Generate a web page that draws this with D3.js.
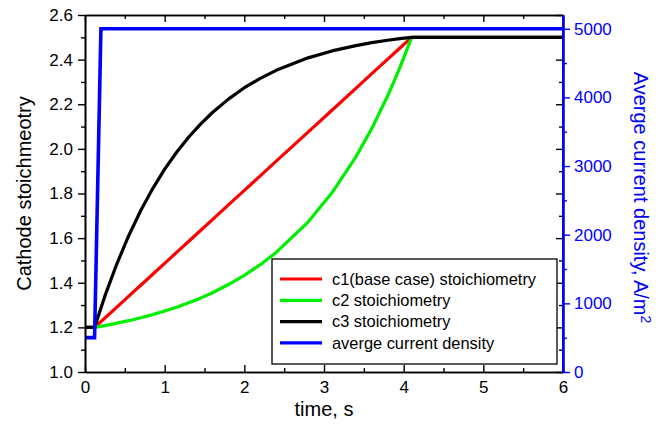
<!DOCTYPE html>
<html>
<head>
<meta charset="utf-8">
<script src="https://cdn.jsdelivr.net/npm/d3@7"></script>
<style>
  body { margin: 0; background: #fff; }
  text { font-family: "Liberation Sans", Arial, sans-serif; }
</style>
</head>
<body>
<div id="chart"></div>
<script>
// Data
const timeC = [0, 0.12, 0.25, 0.4, 0.55, 0.7, 0.85, 1.0, 1.15, 1.3, 1.45, 1.6, 1.8, 2.0, 2.2, 2.4, 2.8, 3.1, 3.4, 3.6, 3.8, 3.95, 4.1, 6.0];
const c1 = [1.2, 1.2, 1.242, 1.291, 1.340, 1.389, 1.438, 1.487, 1.536, 1.585, 1.634, 1.683, 1.749, 1.814, 1.879, 1.945, 2.075, 2.173, 2.271, 2.337, 2.402, 2.451, 2.5, 2.5];
const c2 = [1.2, 1.2, 1.208, 1.219, 1.230, 1.243, 1.257, 1.273, 1.290, 1.310, 1.331, 1.355, 1.392, 1.433, 1.481, 1.536, 1.672, 1.803, 1.964, 2.091, 2.238, 2.362, 2.5, 2.5];
const c3 = [1.2, 1.2, 1.341, 1.485, 1.612, 1.724, 1.822, 1.909, 1.985, 2.052, 2.111, 2.163, 2.223, 2.274, 2.316, 2.352, 2.408, 2.439, 2.463, 2.476, 2.487, 2.494, 2.5, 2.5];
const timeJ = [0, 0.12, 0.2, 6.0];
const currentDensity = [500, 500, 5000, 5000];

const xTicks = [0, 1, 2, 3, 4, 5, 6];
const yLeftTicks = [1.0, 1.2, 1.4, 1.6, 1.8, 2.0, 2.2, 2.4, 2.6];
const yRightTicks = [0, 1000, 2000, 3000, 4000, 5000];

const series = [
  { name: "c1(base case) stoichiometry", color: "#ff0000", values: c1 },
  { name: "c2 stoichiometry", color: "#00ee00", values: c2 },
  { name: "c3 stoichiometry", color: "#000000", values: c3 }
];

const W = 670, H = 426;
const mLeft = 85, mRight = 563, mTop = 15, mBottom = 372;

const svg = d3.select("#chart").append("svg")
  .attr("width", W).attr("height", H);

const x = d3.scaleLinear().domain([0, 6]).range([mLeft, mRight]);
const yL = d3.scaleLinear().domain([1.0, 2.6]).range([mBottom, mTop]);
const yR = d3.scaleLinear().domain([0, 5200]).range([mBottom, mTop]);

const minorX = d3.range(0.5, 6, 1);
const minorYL = d3.range(1.1, 2.6, 0.2);
const minorYR = d3.range(500, 5200, 1000);

function styleAxis(g, color, fs) {
  g.selectAll("path").attr("stroke", color).attr("stroke-width", 1.6);
  g.selectAll("line").attr("stroke", color).attr("stroke-width", 1.4);
  g.selectAll("text").attr("fill", color).style("font-size", fs + "px")
    .style("font-family", "'Liberation Sans', Arial, sans-serif");
}

// curves
const lineC = d3.line().x((d, i) => x(timeC[i])).y(d => yL(d));
series.forEach(s => {
  svg.append("path")
    .attr("d", lineC(s.values))
    .attr("fill", "none")
    .attr("stroke", s.color)
    .attr("stroke-width", 3.2)
    .attr("stroke-linejoin", "round");
});

// current density
const lineJ = d3.line().x((d, i) => x(timeJ[i])).y(d => yR(d));
svg.append("path")
  .attr("d", lineJ(currentDensity))
  .attr("fill", "none")
  .attr("stroke", "#0000ff")
  .attr("stroke-width", 3.6);

// bottom axis (ticks inward)
svg.append("g").attr("transform", `translate(0,${mBottom})`)
  .call(d3.axisBottom(x).tickValues(xTicks).tickSize(-7).tickSizeOuter(0).tickPadding(9).tickFormat(d3.format("d")))
  .call(g => styleAxis(g, "#000", 17));
svg.append("g").attr("transform", `translate(0,${mBottom})`)
  .call(d3.axisBottom(x).tickValues(minorX).tickSize(-4).tickSizeOuter(0).tickFormat(""))
  .call(g => styleAxis(g, "#000", 17));

// top frame (ticks inward)
svg.append("g").attr("transform", `translate(0,${mTop})`)
  .call(d3.axisTop(x).tickValues(xTicks).tickSize(-7).tickSizeOuter(0).tickFormat(""))
  .call(g => styleAxis(g, "#000", 17));
svg.append("g").attr("transform", `translate(0,${mTop})`)
  .call(d3.axisTop(x).tickValues(minorX).tickSize(-4).tickSizeOuter(0).tickFormat(""))
  .call(g => styleAxis(g, "#000", 17));

// left axis (ticks outward)
svg.append("g").attr("transform", `translate(${mLeft},0)`)
  .call(d3.axisLeft(yL).tickValues(yLeftTicks).tickSize(7).tickSizeOuter(0).tickPadding(5).tickFormat(d3.format(".1f")))
  .call(g => styleAxis(g, "#000", 17));
svg.append("g").attr("transform", `translate(${mLeft},0)`)
  .call(d3.axisLeft(yL).tickValues(minorYL).tickSize(4).tickSizeOuter(0).tickFormat(""))
  .call(g => styleAxis(g, "#000", 17));

// mirrored left-axis ticks on the right side, pointing inward
svg.append("g").attr("transform", `translate(${mRight},0)`)
  .call(d3.axisLeft(yL).tickValues(yLeftTicks).tickSize(7).tickSizeOuter(0).tickFormat(""))
  .call(g => styleAxis(g, "#000", 17));
svg.append("g").attr("transform", `translate(${mRight},0)`)
  .call(d3.axisLeft(yL).tickValues(minorYL).tickSize(4).tickSizeOuter(0).tickFormat(""))
  .call(g => styleAxis(g, "#000", 17));

// right axis (blue)
svg.append("g").attr("transform", `translate(${mRight},0)`)
  .call(d3.axisRight(yR).tickValues(yRightTicks).tickSize(7).tickSizeOuter(0).tickPadding(4).tickFormat(d3.format("d")))
  .call(g => styleAxis(g, "#0000ff", 17));
svg.append("g").attr("transform", `translate(${mRight},0)`)
  .call(d3.axisRight(yR).tickValues(minorYR).tickSize(4).tickSizeOuter(0).tickFormat(""))
  .call(g => styleAxis(g, "#0000ff", 17));
// extend right axis line to the top of the frame
svg.append("line")
  .attr("x1", mRight).attr("x2", mRight)
  .attr("y1", mTop).attr("y2", mBottom)
  .attr("stroke", "#0000ff").attr("stroke-width", 2);

// axis titles
svg.append("text")
  .attr("x", (mLeft + mRight) / 2).attr("y", 416)
  .attr("text-anchor", "middle")
  .style("font-size", "20px")
  .text("time, s");

svg.append("text")
  .attr("transform", `translate(31,${(mTop + mBottom) / 2}) rotate(-90)`)
  .attr("text-anchor", "middle")
  .style("font-size", "20px")
  .text("Cathode stoichmeotry");

const rt = svg.append("text")
  .attr("transform", `translate(634,${(mTop + mBottom) / 2 + 4}) rotate(90)`)
  .attr("text-anchor", "middle")
  .attr("fill", "#0000ff")
  .style("font-size", "20px");
rt.append("tspan").text("Averge current density, A/m");
rt.append("tspan").attr("dy", "-0.5em").style("font-size", "14px").text("2");

// legend
const legendItems = series.concat([{ name: "averge current density", color: "#0000ff" }]);
const lgX = 272, lgY = 259, lgW = 285, lgH = 105;
svg.append("rect")
  .attr("x", lgX).attr("y", lgY).attr("width", lgW).attr("height", lgH)
  .attr("fill", "#fff").attr("stroke", "#000").attr("stroke-width", 1.3);

const legend = svg.selectAll(".legend")
  .data(legendItems)
  .enter().append("g")
  .attr("class", "legend")
  .attr("transform", (d, i) => `translate(${lgX},${lgY + 20 + i * 21.3})`);

legend.append("line")
  .attr("x1", 8).attr("x2", 50)
  .attr("stroke", d => d.color)
  .attr("stroke-width", 3.2);

legend.append("text")
  .attr("x", 60)
  .attr("dy", ".35em")
  .style("font-size", "16.4px")
  .text(d => d.name);
</script>
</body>
</html>
